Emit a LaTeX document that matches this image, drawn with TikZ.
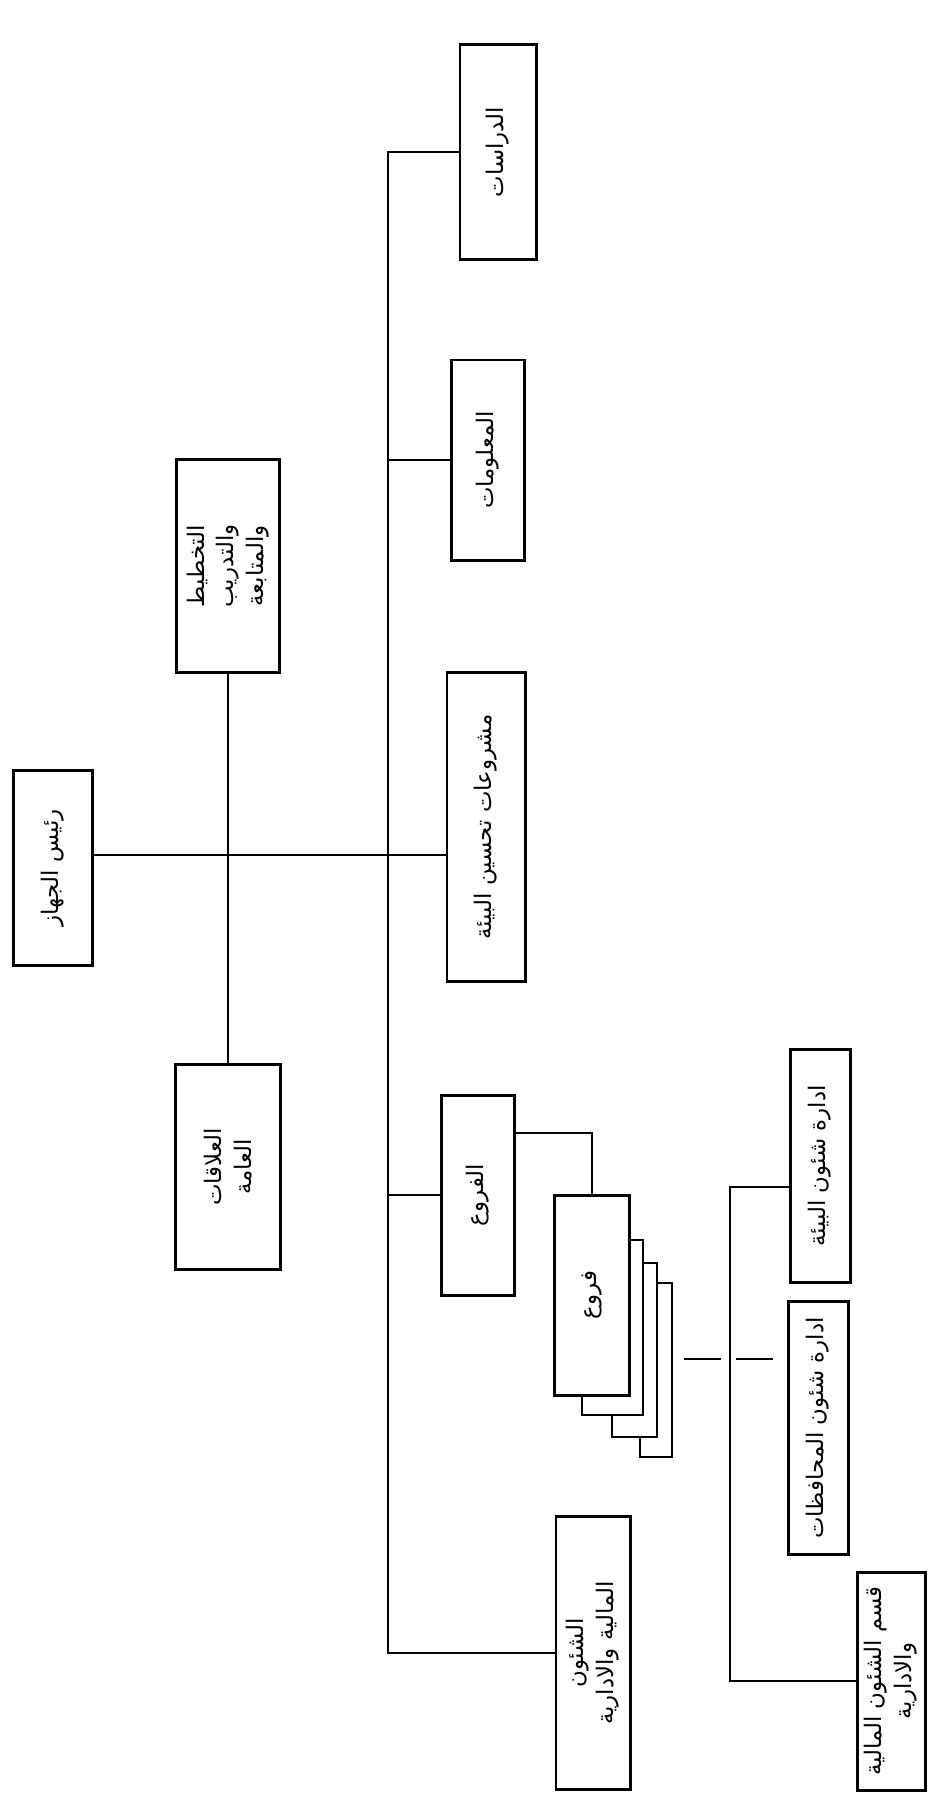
\documentclass[tikz,border=0pt]{standalone}
\usepackage{fontspec}
\newfontfamily\arabicfont[Script=Arabic]{DejaVu Sans}
\TeXXeTstate=1
\newcommand{\artext}[1]{\beginR #1\endR}
\tikzset{
  unit/.style={draw, fill=white, line width=1.7pt, rotate=90, align=center, inner sep=2pt,
    font=\arabicfont\fontsize{13}{17}\selectfont},
  link/.style={line width=1.4pt},
  brk/.style={line width=1.1pt, dash pattern=on 7.4mm off 3mm}
}

\begin{document}
\begin{tikzpicture}[x=0.2mm, y=-0.2mm]
  \useasboundingbox (0,0) rectangle (946,1809);
  % Top level
  \node (head) [unit, minimum width=39mm, minimum height=15.8mm] at (53,868) {\artext{رئيس الجهاز}};
  \node (plan) [unit, minimum width=42.6mm, minimum height=20.6mm] at (228,566) {\artext{التخطيط}\\ \artext{والتدريب}\\ \artext{والمتابعة}};
  \node (pr) [unit, minimum width=41mm, minimum height=21mm] at (228,1167) {\artext{العلاقات}\\ \artext{العامة}};
  % Departments
  \node (studies) [unit, minimum width=43mm, minimum height=15.2mm] at (498,152) {\artext{الدراسات}};
  \node (info) [unit, minimum width=40mm, minimum height=14.6mm] at (488,460) {\artext{المعلومات}};
  \node (proj) [unit, minimum width=61.8mm, minimum height=15.6mm] at (486,827) {\artext{مشروعات تحسين البيئة}};
  \node (branches) [unit, minimum width=40mm, minimum height=14.6mm] at (478,1195) {\artext{الفروع}};
  \node (finance) [unit, minimum width=54.6mm, minimum height=14.8mm] at (593,1653) {\artext{الشئون}\\ \artext{المالية والادارية}};
  % Stack of branch offices
  \foreach \l/\t/\r/\b in {640/1283/672/1457, 612/1263/657/1437, 582/1240/643/1415}
    \filldraw[fill=white, line width=1.4pt] (\l,\t) rectangle (\r,\b);
  \node (stack) [unit, minimum width=40mm, minimum height=15mm] at (592,1295) {\artext{فروع}};
  % Branch office sections
  \node (env) [unit, minimum width=46.6mm, minimum height=12mm] at (820,1166) {\artext{ادارة شئون البيئة}};
  \node (gov) [unit, minimum width=50.6mm, minimum height=12mm] at (818,1428) {\artext{ادارة شئون المحافظات}};
  \node (findept) [unit, minimum width=43.6mm, minimum height=13.6mm] at (891,1681) {\artext{قسم الشئون المالية}\\ \artext{والادارية}};
  % Lines
  \coordinate (bus) at (388,0);
  \coordinate (sub) at (730,0);
  \coordinate (stackR) at (684,1359);
  \draw[link] (head.south |- 0,855) -- (proj.north |- 0,855);
  \draw[link] (plan.west) -- (plan.west |- pr.east);
  \draw[link] (studies.north) -| (bus |- finance.north) -- (finance.north);
  \draw[link] (info.north) -- (info.north -| bus);
  \draw[link] (branches.north) -- (branches.north -| bus);
  \draw[link] (branches.south |- 0,1133) -| (stack.east);
  \draw[link] (env.north |- 0,1187) -| (sub |- findept.north) -- (findept.north);
  \draw[brk] (stackR) -- (stackR -| gov.north);
\end{tikzpicture}
\end{document}
